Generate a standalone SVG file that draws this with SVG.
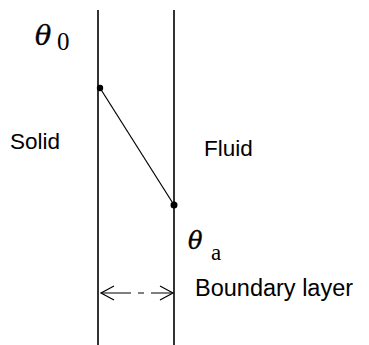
<svg xmlns="http://www.w3.org/2000/svg" width="369" height="345" viewBox="0 0 369 345">
<style>
.wall{stroke:#000;stroke-width:1.6;fill:none}
.lbl{font-family:"Liberation Sans",Arial,sans-serif;fill:#000}
.sym{font-family:"Liberation Serif","Times New Roman",serif;fill:#000}
.th{font-family:"DejaVu Serif",serif;font-style:italic;fill:#000;stroke:#000;stroke-width:0.4}
.conn{stroke:#000;stroke-width:1.2;fill:none}
</style>
<g id="walls">
<line class="wall" x1="98" y1="10" x2="98" y2="345"/>
<line class="wall" x1="174" y1="10" x2="174" y2="345"/>
</g>
<g id="connectors">
<line class="conn" x1="100" y1="88" x2="174" y2="205"/>
<g id="boundary-arrow">
<path class="conn" d="M101,293 H131 M138,293 H144 M151,293 H172"/>
<path class="conn" d="M114,286 L101,293 L114,300"/>
<path class="conn" d="M160,286 L173,293 L160,300"/>
</g>
</g>
<g id="node-theta0">
<circle cx="100" cy="88" r="3.2" fill="#000"/>
<text class="th" x="35" y="45" font-size="27">θ</text>
<text class="sym" x="57" y="50" font-size="25">0</text>
</g>
<g id="node-thetaa">
<circle cx="174" cy="205" r="3.5" fill="#000"/>
<text class="th" x="188" y="249" font-size="24">θ</text>
<text class="sym" x="211" y="260" font-size="23">a</text>
</g>
<g id="node-solid"><text class="lbl" x="10" y="149" font-size="22.5">Solid</text></g>
<g id="node-fluid"><text class="lbl" x="204" y="156" font-size="22.5">Fluid</text></g>
<g id="node-boundary"><text class="lbl" x="195" y="296" font-size="23.5">Boundary layer</text></g>
</svg>
